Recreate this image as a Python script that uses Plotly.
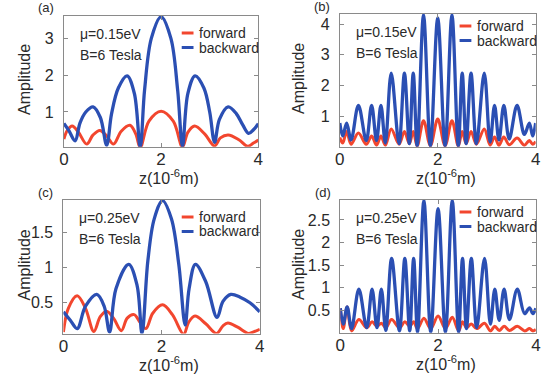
import plotly.graph_objects as go

FW, FH = 550, 380

# ---------------- data ----------------
# panel (a)  mu=0.15 eV
a_back_x = [0, 0.1, 0.23, 0.33, 0.45, 0.6, 0.75, 0.88, 0.98, 1.12, 1.3, 1.45, 1.57, 1.66, 1.8, 2.0,
            2.2, 2.34, 2.44, 2.55, 2.7, 2.88, 3.0, 3.1, 3.2, 3.38, 3.55, 3.68, 3.8, 3.9, 4.0]
a_back_y = [0.69, 0.5, 0.22, 0.7, 1.0, 1.14, 0.85, 0.1, 0.95, 1.65, 1.98, 1.5, 0.05, 1.6, 3.0, 3.58,
            3.0, 1.6, 0.07, 1.5, 1.98, 1.65, 1.0, 0.18, 0.8, 1.14, 0.95, 0.65, 0.42, 0.52, 0.68]
a_fwd_x = [0, 0.07, 0.17, 0.3, 0.47, 0.6, 0.74, 0.88, 1.02, 1.18, 1.36, 1.48, 1.57, 1.75, 2.0,
           2.25, 2.44, 2.55, 2.69, 2.9, 3.1, 3.22, 3.38, 3.6, 3.78, 3.9, 4.0]
a_fwd_y = [0.27, 0.5, 0.62, 0.45, 0.13, 0.38, 0.5, 0.35, 0.13, 0.48, 0.64, 0.4, 0.04, 0.75, 1.02,
           0.75, 0.05, 0.45, 0.62, 0.4, 0.08, 0.3, 0.38, 0.25, 0.07, 0.16, 0.24]

# panels (b) and (d) share the positions of the extrema
bd_x = [0, 0.06, 0.14, 0.23, 0.38, 0.54, 0.65, 0.75, 0.84, 0.93,
        1.05, 1.21, 1.32, 1.42, 1.5, 1.58, 1.71, 1.85, 2.0, 2.15,
        2.29, 2.42, 2.5, 2.58, 2.68, 2.79, 2.95, 3.07, 3.16, 3.25,
        3.35, 3.46, 3.62, 3.77, 3.87, 3.94, 4.0]
b_back_y = [0.77, 0.35, 0.77, 0.22, 1.35, 0.2, 1.35, 0.2, 1.35, 0.12,
            2.4, 0.1, 2.4, 0.1, 2.4, 0.02, 4.3, 0.02, 4.2, 0.02,
            4.3, 0.02, 2.4, 0.1, 2.4, 0.1, 2.4, 0.15, 1.35, 0.22,
            1.35, 0.25, 1.35, 0.4, 0.77, 0.35, 0.77]
b_fwd_y = [0.3, 0.12, 0.5, 0.08, 0.45, 0.08, 0.35, 0.05, 0.35, 0.05,
           0.58, 0.08, 0.5, 0.1, 0.5, 0.02, 0.85, 0.03, 0.9, 0.03,
           0.85, 0.02, 0.5, 0.1, 0.5, 0.08, 0.58, 0.05, 0.32, 0.05,
           0.32, 0.06, 0.28, 0.05, 0.2, 0.08, 0.17]

# panel (c)  mu=0.25 eV
c_back_x = [0, 0.14, 0.28, 0.45, 0.68, 0.83, 0.94, 1.07, 1.33, 1.5, 1.6, 1.72, 1.85, 2.02, 2.2,
            2.35, 2.48, 2.56, 2.69, 2.9, 3.13, 3.25, 3.41, 3.6, 3.8, 4.0]
c_back_y = [0.37, 0.25, 0.13, 0.45, 0.62, 0.45, 0.08, 0.7, 1.05, 0.75, 0.06, 1.1, 1.7, 1.96, 1.7,
            1.05, 0.18, 0.7, 1.05, 0.8, 0.29, 0.52, 0.62, 0.58, 0.5, 0.37]
c_fwd_x = [0, 0.1, 0.28, 0.45, 0.62, 0.75, 0.88, 1.02, 1.18, 1.3, 1.44, 1.56, 1.68, 1.82, 2.02,
           2.22, 2.45, 2.55, 2.68, 2.9, 3.12, 3.25, 3.35, 3.55, 3.77, 3.9, 4.0]
c_fwd_y = [0.08, 0.42, 0.6, 0.42, 0.09, 0.3, 0.38, 0.28, 0.1, 0.28, 0.33, 0.22, 0.13, 0.35, 0.47,
           0.33, 0.05, 0.22, 0.31, 0.2, 0.06, 0.17, 0.21, 0.15, 0.06, 0.09, 0.12]

# panel (d)
d_back_y = [0.55, 0.2, 0.58, 0.1, 0.97, 0.12, 0.97, 0.12, 0.97, 0.06,
            1.65, 0.05, 1.65, 0.05, 1.65, 0.02, 2.93, 0.02, 2.75, 0.02,
            2.93, 0.02, 1.65, 0.1, 1.65, 0.12, 1.65, 0.2, 0.97, 0.28,
            0.97, 0.3, 0.97, 0.43, 0.56, 0.43, 0.55]
d_fwd_y = [0.55, 0.1, 0.58, 0.05, 0.3, 0.12, 0.25, 0.15, 0.22, 0.12,
           0.3, 0.12, 0.25, 0.15, 0.25, 0.1, 0.33, 0.1, 0.38, 0.1,
           0.35, 0.05, 0.25, 0.12, 0.2, 0.1, 0.22, 0.05, 0.15, 0.06,
           0.15, 0.06, 0.15, 0.05, 0.1, 0.05, 0.08]

x_ticks = [0, 2, 4]
panel_labels = ["(a)", "(b)", "(c)", "(d)"]
mu_labels = ["\u03bc=0.15eV", "\u03bc=0.15eV", "\u03bc=0.25eV", "\u03bc=0.25eV"]
b_label = "B=6 Tesla"
legend_names = ["forward", "backward"]
y_ticks = [[1, 2, 3], [1, 2, 3, 4], [0.5, 1, 1.5], [0.5, 1, 1.5, 2, 2.5]]
y_ranges = [[0.06, 3.6], [0.0, 4.33], [0.06, 1.97], [0.01, 2.94]]

# ---------------- style / layout ----------------
RED = "#F2462E"
BLUE = "#2B4FB3"
TXT = "#2a2a2a"
AX = "#8a8a8a"
FONT = "Liberation Sans, Arial, sans-serif"


def PX(px):
    return px / FW


def PY(py):
    return 1 - py / FH


# plot-area boxes in page pixels: (left, right, top, bottom)
boxes = [(60, 258, 16, 146.7), (341, 540.5, 14, 146.7),
         (59.5, 259.5, 200, 333.5), (341.5, 540.7, 200, 332.7)]

series = [
    (a_fwd_x, a_fwd_y, a_back_x, a_back_y),
    (bd_x, b_fwd_y, bd_x, b_back_y),
    (c_fwd_x, c_fwd_y, c_back_x, c_back_y),
    (bd_x, d_fwd_y, bd_x, d_back_y),
]

fig = go.Figure()
layout = dict(width=FW, height=FH, margin=dict(l=0, r=0, t=0, b=0),
              paper_bgcolor="white", plot_bgcolor="white", showlegend=False,
              font=dict(family=FONT, color=TXT))
annotations = []
shapes = []

for i, (box, (fx, fy, bx, by)) in enumerate(zip(boxes, series)):
    k = "" if i == 0 else str(i + 1)
    xa, ya = "x" + k, "y" + k
    fig.add_trace(go.Scatter(x=fx, y=fy, mode="lines", xaxis=xa, yaxis=ya,
                             line=dict(color=RED, width=3, shape="spline", smoothing=1),
                             name=legend_names[0]))
    fig.add_trace(go.Scatter(x=bx, y=by, mode="lines", xaxis=xa, yaxis=ya,
                             line=dict(color=BLUE, width=3.3, shape="spline", smoothing=1),
                             name=legend_names[1]))
    l, r, t, b = box
    common = dict(showline=True, mirror="ticks", linecolor=AX, linewidth=1,
                  ticks="inside", ticklen=4, tickcolor=AX, showgrid=False,
                  zeroline=False, fixedrange=True)
    layout["xaxis" + k] = dict(domain=[PX(l), PX(r)], anchor=ya, range=[0, 4],
                               tickvals=x_ticks, ticklabelstandoff=-3,
                               tickfont=dict(size=17, color=TXT), **common)
    layout["yaxis" + k] = dict(domain=[PY(b), PY(t)], anchor=xa, range=y_ranges[i],
                               tickvals=y_ticks[i], ticklabelstandoff=6,
                               tickfont=dict(size=16, color=TXT), **common)

    # panel label
    annotations.append(dict(x=PX(l - 28), y=PY(t - 8), xref="paper", yref="paper",
                            text=panel_labels[i], showarrow=False, xanchor="left",
                            yanchor="middle", font=dict(size=13, color=TXT)))
    # parameter text
    annotations.append(dict(x=PX(l + 14), y=PY(t + 18), xref="paper", yref="paper",
                            text=mu_labels[i], showarrow=False, xanchor="left",
                            yanchor="middle", font=dict(size=14, color=TXT)))
    annotations.append(dict(x=PX(l + 14), y=PY(t + 39), xref="paper", yref="paper",
                            text=b_label, showarrow=False, xanchor="left",
                            yanchor="middle", font=dict(size=14, color=TXT)))
    # axis titles
    annotations.append(dict(x=PX(20 if l < 200 else 299), y=PY((t + b) / 2 - 2),
                            xref="paper", yref="paper", text="Amplitude", textangle=-90,
                            showarrow=False, xanchor="center", yanchor="middle",
                            font=dict(size=16, color=TXT)))
    annotations.append(dict(x=PX((l + r) / 2 + 8), y=PY(b + 30), xref="paper",
                            yref="paper", text="z(10<sup>-6</sup>m)", showarrow=False,
                            xanchor="center", yanchor="middle", font=dict(size=16, color=TXT)))
    # legend (drawn by hand)
    if l < 200:
        lx0, ly = 180, t + 17
    else:
        lx0, ly = 463, t + 12
    for j, (nm, col) in enumerate(zip(legend_names, [RED, BLUE])):
        yy = ly + j * 14.5
        shapes.append(dict(type="line", xref="paper", yref="paper",
                           x0=PX(lx0), x1=PX(lx0 + 12), y0=PY(yy), y1=PY(yy),
                           line=dict(color=col, width=3)))
        annotations.append(dict(x=PX(lx0 + 16), y=PY(yy), xref="paper", yref="paper",
                                text=nm, showarrow=False, xanchor="left", yanchor="middle",
                                font=dict(size=14, color=TXT)))

layout["annotations"] = annotations
layout["shapes"] = shapes
fig.update_layout(**layout)
# drop the page's default 8px body margin so the figure fills the window exactly
fig.write_html("out.html", config={"displayModeBar": False},
               post_script="document.body.style.margin='0';")
